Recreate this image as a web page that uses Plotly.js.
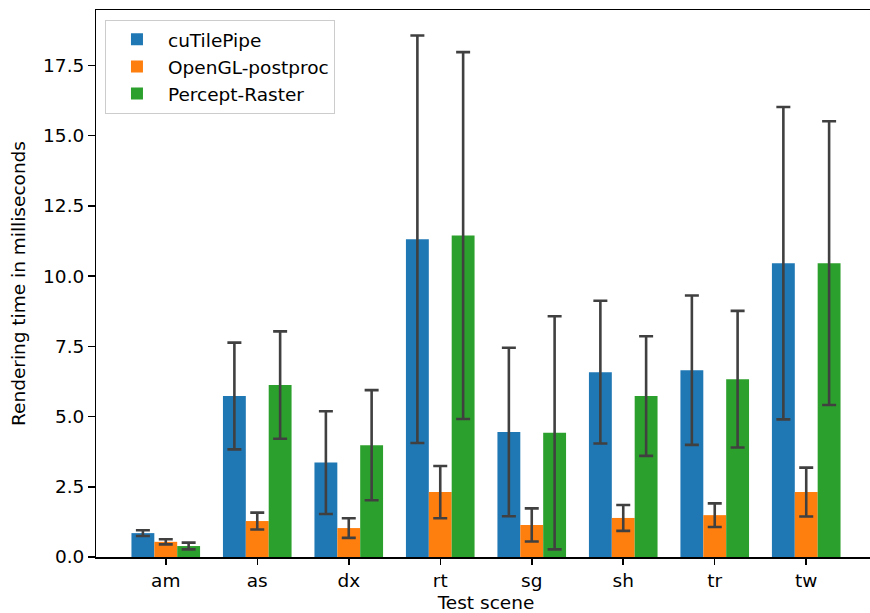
<!DOCTYPE html>
<html>
<head>
<meta charset="utf-8">
<script src="https://cdn.plot.ly/plotly-3.0.1.min.js"></script>
<style>
html, body { margin: 0; padding: 0; overflow: hidden; background: #fff; }
#chart { width: 880px; height: 630px; }
</style>
</head>
<body>
<div id="chart"></div>
<script>
const categories = ['am', 'as', 'dx', 'rt', 'sg', 'sh', 'tr', 'tw'];
const cuTilePipe = [0.85, 5.73, 3.36, 11.31, 4.45, 6.58, 6.65, 10.46];
const cuTilePipeErr = [0.10, 1.90, 1.83, 7.25, 3.00, 2.54, 2.66, 5.56];
const openglPostproc = [0.54, 1.28, 1.03, 2.31, 1.14, 1.39, 1.49, 2.31];
const openglPostprocErr = [0.09, 0.30, 0.35, 0.93, 0.59, 0.46, 0.42, 0.87];
const perceptRaster = [0.39, 6.12, 3.98, 11.44, 4.42, 5.73, 6.33, 10.46];
const perceptRasterErr = [0.12, 1.91, 1.96, 6.53, 4.15, 2.13, 2.43, 5.05];
const seriesNames = ['cuTilePipe', 'OpenGL-postproc', 'Percept-Raster'];
const colors = ['#1f77b4', '#ff7f0e', '#2ca02c'];

const vals = [cuTilePipe, openglPostproc, perceptRaster];
const errs = [cuTilePipeErr, openglPostprocErr, perceptRasterErr];
const font = { family: 'DejaVu Sans, sans-serif', size: 18.5, color: '#000' };

const traces = vals.map((v, i) => ({
  type: 'bar',
  name: seriesNames[i],
  x: categories,
  y: v,
  marker: { color: colors[i], line: { width: 0 } },
  error_y: { type: 'data', array: errs[i], visible: true, color: '#404040', thickness: 2.6, width: 7 }
}));

const layout = {
  width: 880,
  height: 630,
  margin: { l: 96, r: 4, t: 10, b: 73 },
  paper_bgcolor: '#fff',
  plot_bgcolor: '#fff',
  font: font,
  barmode: 'group',
  bargap: 0.25,
  bargroupgap: 0,
  showlegend: true,
  legend: {
    x: 0.0115, y: 0.982, xanchor: 'left', yanchor: 'top',
    bgcolor: 'rgba(255,255,255,0.8)', bordercolor: '#cccccc', borderwidth: 1,
    itemwidth: 52,
    entrywidth: 244, entrywidthmode: 'pixels',
    font: font
  },
  xaxis: {
    type: 'category',
    range: [-0.7625, 7.7625],
    showline: true, linecolor: '#000', linewidth: 1.5, mirror: true,
    ticks: 'outside', ticklen: 6.5, tickwidth: 1.5, tickcolor: '#000',
    showgrid: false, zeroline: false,
    title: { text: 'Test scene', font: font, standoff: 6 },
    tickfont: font
  },
  yaxis: {
    range: [0, 19.47],
    dtick: 2.5, tick0: 0, tickformat: '.1f',
    showline: true, linecolor: '#000', linewidth: 1.5, mirror: true,
    ticks: 'outside', ticklen: 6.5, tickwidth: 1.5, tickcolor: '#000',
    showgrid: false, zeroline: false,
    title: { text: 'Rendering time in milliseconds', font: font, standoff: 12 },
    tickfont: font
  }
};

Plotly.newPlot('chart', traces, layout, { staticPlot: true, displayModeBar: false });
</script>
</body>
</html>
